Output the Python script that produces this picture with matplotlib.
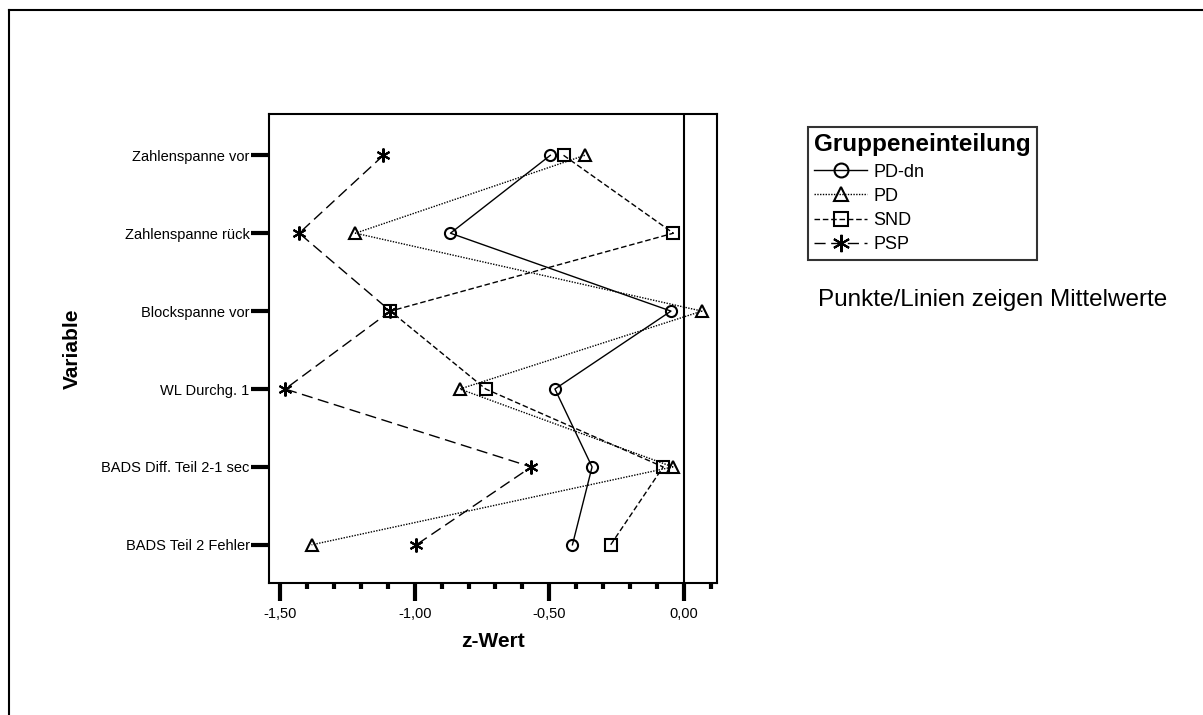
import numpy as np
import matplotlib
matplotlib.use("Agg")
import matplotlib.pyplot as plt
from matplotlib.lines import Line2D
from matplotlib.ticker import MultipleLocator, FuncFormatter

plt.rcParams["font.family"] = ["Liberation Sans", "DejaVu Sans"]

# Data (mean z values per variable and group)
variables = [
    "Zahlenspanne vor",
    "Zahlenspanne rück",
    "Blockspanne vor",
    "WL Durchg. 1",
    "BADS Diff. Teil 2-1 sec",
    "BADS Teil 2 Fehler",
]
pd_dn = [-0.496, -0.867, -0.048, -0.479, -0.341, -0.414]
pd = [-0.368, -1.220, 0.067, -0.832, -0.041, -1.383]
snd = [-0.447, -0.039, -1.090, -0.736, -0.077, -0.272]
psp = [-1.116, -1.429, -1.090, -1.481, -0.567, -0.994]

groups = ["PD-dn", "PD", "SND", "PSP"]
series = [pd_dn, pd, snd, psp]
markers = ["o", "^", "s", (6, 2, 0)]
msizes = [8, 8, 8, 10]
styles = ["-", (0, (1, 1)), (0, (4, 2)), (0, (8, 4))]

fig = plt.figure(figsize=(12.03, 7.15), dpi=100)
ax = fig.add_axes([269 / 1203, 1 - 583 / 715, (717 - 269) / 1203, (583 - 114) / 715])

ypos = np.arange(len(variables))
for name, vals, m, ms, ls in zip(groups, series, markers, msizes, styles):
    ax.plot(vals, ypos, linestyle=ls, color="black", linewidth=1,
            marker=m, markersize=ms, markerfacecolor="none",
            markeredgewidth=1.5, markeredgecolor="black", label=name)

ax.axvline(0, color="black", linewidth=1.5)

ax.set_xlim(-1.541, 0.123)
ax.set_ylim(5.49, -0.53)
ax.set_yticks(ypos)
ax.set_yticklabels(variables, fontsize=10.5)
ax.xaxis.set_major_locator(MultipleLocator(0.5))
ax.xaxis.set_minor_locator(MultipleLocator(0.1))
ax.xaxis.set_major_formatter(FuncFormatter(lambda v, p: f"{v:.2f}".replace(".", ",")))
ax.tick_params(axis="x", which="major", length=13, width=3, labelsize=10.5, pad=4)
ax.tick_params(axis="x", which="minor", length=4, width=3)
ax.tick_params(axis="y", which="major", length=13, width=3, pad=1)
for s in ax.spines.values():
    s.set_linewidth(1.5)

ax.set_xlabel("z-Wert", fontsize=15, fontweight="bold", labelpad=8)
ax.set_ylabel("Variable", fontsize=15, fontweight="bold", labelpad=14)

leg = fig.legend(loc="upper left", bbox_to_anchor=(799 / 1203, 1 - 118 / 715),
                 title="Gruppeneinteilung", fontsize=13, frameon=True,
                 fancybox=False, edgecolor="black", handlelength=2.9,
                 handletextpad=0.35, labelspacing=0.4, borderpad=0.35,
                 markerscale=1.25, alignment="left")
leg.get_title().set_fontweight("bold")
leg.get_title().set_fontsize(17.5)
leg.get_frame().set_linewidth(1.5)

fig.text(818 / 1203, 1 - 300 / 715, "Punkte/Linien zeigen Mittelwerte",
         fontsize=17.5, va="center", ha="left")

# outer frame (left and top edges)
fig.add_artist(Line2D([9 / 1203, 9 / 1203], [0, 1 - 10 / 715], color="black",
                      linewidth=1.5, transform=fig.transFigure))
fig.add_artist(Line2D([9 / 1203, 1], [1 - 10 / 715, 1 - 10 / 715], color="black",
                      linewidth=1.5, transform=fig.transFigure))

plt.savefig("out.png", dpi=100)
